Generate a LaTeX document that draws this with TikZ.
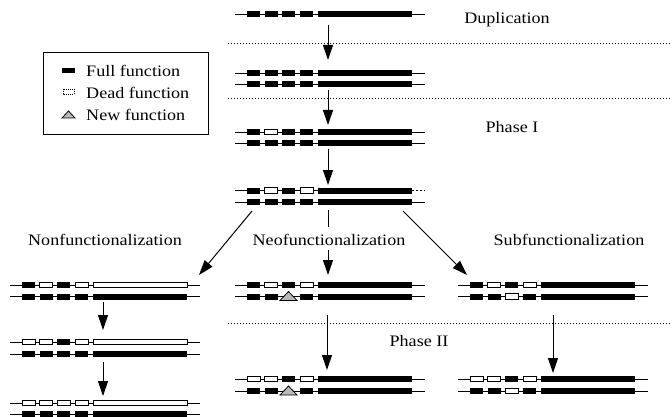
\documentclass[tikz,border=0pt]{standalone}
\usepackage{fontspec}
\setmainfont{Liberation Serif}
\usetikzlibrary{arrows.meta}
\tikzset{
  gline/.style={line width=0.7pt},
  exfull/.style={fill=black},
  exdead/.style={fill=white,draw=black,line width=0.7pt},
  exnew/.style={fill=gray!55,draw=black,line width=0.8pt},
  lbl/.style={font=\fontsize{16}{18}\selectfont,xscale=1.13,inner sep=0pt},
  bigarrow/.style={line width=1pt,-{Triangle[length=15pt,width=10pt]}},
  plainline/.style={line width=1pt},
  sepline/.style={line width=1pt,dash pattern=on 1pt off 2pt},
  legbox/.style={draw=black,line width=0.8pt},
}
% type, L, y, start, end
\newcommand{\exon}[5]{%
  \if#1f\fill[exfull] (#2+#4,#3-3) rectangle (#2+#5,#3+3);\fi
  \if#1d\filldraw[exdead] (#2+#4,#3-2.7) rectangle (#2+#5,#3+2.7);\fi
  \if#1n\filldraw[exnew] (#2+#4-2,#3+4) -- (#2+#4/2+#5/2,#3-5) -- (#2+#5+2,#3+4) -- cycle;\fi
}
% L, y, five exon types
\newcommand{\gene}[7]{%
  \draw[gline] (#1,#2) -- ++(190,0);
  \exon{#3}{#1}{#2}{12}{25}%
  \exon{#4}{#1}{#2}{29.5}{42.5}%
  \exon{#5}{#1}{#2}{47}{60}%
  \exon{#6}{#1}{#2}{65}{78}%
  \exon{#7}{#1}{#2}{83}{177}%
}
\begin{document}
\begin{tikzpicture}[x=1pt,y=-1pt]
\useasboundingbox (0,0) rectangle (672,417);

% separators
\draw[sepline] (228,44) -- (672,44);
\draw[sepline] (228,99) -- (672,99);
\draw[sepline] (228,323) -- (672,323);

% labels
\node[lbl] (dup) at (507,20) {Duplication};
\node[lbl] (ph1) at (512,127) {Phase I};
\node[lbl] (ph2) at (419,341) {Phase II};
\node[lbl] (nonf) at (105,240) {Nonfunctionalization};
\node[lbl] (neof) at (329,240) {Neofunctionalization};
\node[lbl] (subf) at (569,240) {Subfunctionalization};

% legend
\draw[legbox] (43,52) rectangle (208,134);
\fill[exfull] (62,68.5) rectangle (75,73.5);
\draw[line width=0.6pt,dash pattern=on 1pt off 1pt] (63,89.5) rectangle (74,94.5);
\filldraw[exnew] (62,118) -- (68.5,111) -- (75,118) -- cycle;
\node[lbl,anchor=west] (lf) at (86,71) {Full function};
\node[lbl,anchor=west] (ld) at (86,92.5) {Dead function};
\node[lbl,anchor=west] (ln) at (86,115) {New function};

% central column
\gene{235}{14}{f}{f}{f}{f}{f}
\gene{235}{73}{f}{f}{f}{f}{f}
\gene{235}{84.5}{f}{f}{f}{f}{f}
\gene{235}{132}{f}{d}{f}{f}{f}
\gene{235}{143.5}{f}{f}{f}{f}{f}
\gene{235}{190.5}{f}{d}{f}{d}{f}
\gene{235}{202}{f}{f}{f}{f}{f}
\draw[white,line width=1.5pt,dash pattern=on 2pt off 2pt] (414,190.5) -- (425,190.5);

% nonfunctionalization column
\gene{10}{285}{f}{d}{f}{d}{d}
\gene{10}{296.5}{f}{f}{f}{f}{f}
\gene{10}{342}{d}{d}{f}{d}{d}
\gene{10}{354}{f}{f}{f}{f}{f}
\gene{10}{403}{d}{d}{d}{d}{d}
\gene{10}{414}{f}{f}{f}{f}{f}

% neofunctionalization column
\gene{235}{285}{f}{d}{f}{d}{f}
\gene{235}{296.5}{f}{f}{n}{f}{f}
\gene{235}{379}{d}{d}{f}{d}{f}
\gene{235}{391}{f}{f}{n}{f}{f}

% subfunctionalization column
\gene{458}{285}{f}{d}{f}{d}{f}
\gene{458}{296.5}{f}{f}{d}{f}{f}
\gene{458}{379}{d}{d}{f}{d}{f}
\gene{458}{391}{f}{f}{d}{f}{f}

% arrow end points
\coordinate (a1s) at (328,25);  \coordinate (a1e) at (328,60);
\coordinate (a2s) at (328,90);  \coordinate (a2e) at (328,125);
\coordinate (a3s) at (328,149); \coordinate (a3e) at (328,185);
\coordinate (ls) at (252,211);  \coordinate (le) at (199,275);
\coordinate (rs) at (403,211);  \coordinate (re) at (467,275);
\coordinate (ms) at (328,210);  \coordinate (mm) at (328,227);
\coordinate (mt) at (328,250);  \coordinate (me) at (328,275);
\coordinate (n1s) at (103,302); \coordinate (n1e) at (103,330);
\coordinate (n2s) at (103,362); \coordinate (n2e) at (103,396);
\coordinate (c1s) at (327,315); \coordinate (c1e) at (327,370);
\coordinate (s1s) at (553,315); \coordinate (s1e) at (553,373);

\draw[bigarrow] (a1s) -- (a1e);
\draw[bigarrow] (a2s) -- (a2e);
\draw[bigarrow] (a3s) -- (a3e);
\draw[bigarrow] (ls) -- (le);
\draw[bigarrow] (rs) -- (re);
\draw[plainline] (ms) -- (mm);
\draw[bigarrow] (mt) -- (me);
\draw[bigarrow] (n1s) -- (n1e);
\draw[bigarrow] (n2s) -- (n2e);
\draw[bigarrow] (c1s) -- (c1e);
\draw[bigarrow] (s1s) -- (s1e);
\end{tikzpicture}
\end{document}
